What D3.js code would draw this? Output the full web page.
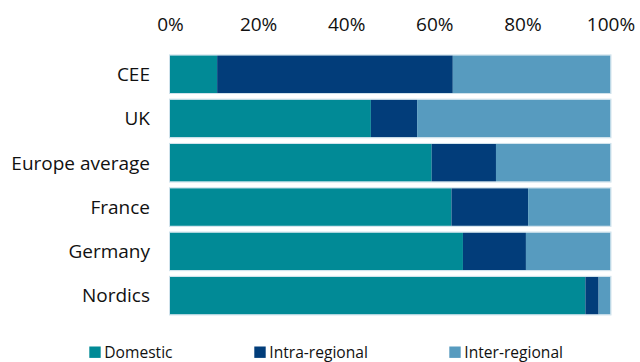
<!DOCTYPE html>
<html>
<head>
<meta charset="utf-8">
<script src="https://cdn.jsdelivr.net/npm/d3@7"></script>
<style>
  html, body { margin: 0; padding: 0; background: #fff; }
  svg { display: block; }
  text { font-family: "Open Sans", "Noto Sans", sans-serif; fill: #111; }
</style>
</head>
<body>
<svg id="chart" width="640" height="362"></svg>
<script>
// Share of flows by origin, per region (percent)
const categories = ["CEE", "UK", "Europe average", "France", "Germany", "Nordics"];
const seriesNames = ["Domestic", "Intra-regional", "Inter-regional"];
const domestic      = [10.7, 45.6, 59.4, 63.9, 66.5, 94.3];
const intraRegional = [53.5, 10.5, 14.6, 17.4, 14.3,  3.0];
const interRegional = [35.8, 43.9, 26.0, 18.7, 19.2,  2.7];
const tickValues = [0, 20, 40, 60, 80, 100];

const colors = ["#018a96", "#023d7a", "#579bbf"];

const rows = categories.map((c, i) => ({
  category: c,
  "Domestic": domestic[i],
  "Intra-regional": intraRegional[i],
  "Inter-regional": interRegional[i]
}));

const svg = d3.select("#chart");

const x = d3.scaleLinear().domain([0, 100]).range([170, 610.5]);
const y = d3.scaleBand().domain(categories).range([48.7, 321.1]).padding(0.15);
const color = d3.scaleOrdinal().domain(seriesNames).range(colors);

const stack = d3.stack().keys(seriesNames);
const layers = stack(rows);

// stacked segments
svg.append("g")
  .selectAll("g")
  .data(layers)
  .join("g")
    .attr("fill", d => color(d.key))
  .selectAll("rect")
  .data(d => d)
  .join("rect")
    .attr("x", d => x(d[0]))
    .attr("y", d => y(d.data.category))
    .attr("width", d => x(d[1]) - x(d[0]))
    .attr("height", y.bandwidth());

// thin light outline around each bar
svg.append("g")
  .selectAll("rect")
  .data(rows)
  .join("rect")
    .attr("x", x(0) - 0.5)
    .attr("y", d => y(d.category) - 0.5)
    .attr("width", x(100) - x(0) + 1)
    .attr("height", y.bandwidth() + 1)
    .attr("fill", "none")
    .attr("stroke", "#cfe2ec")
    .attr("stroke-width", 1);

// top percentage axis
const xAxis = svg.append("g")
  .attr("transform", "translate(0,34)")
  .call(d3.axisTop(x).tickValues(tickValues).tickSize(0).tickPadding(3)
    .tickFormat(d => d + "%"));
xAxis.select(".domain").remove();
xAxis.selectAll("text")
  .attr("fill", "#111")
  .style("font-size", "19px")
  .style("font-family", "'Open Sans', sans-serif");

// category axis
const yAxis = svg.append("g")
  .attr("transform", `translate(${x(0)},0)`)
  .call(d3.axisLeft(y).tickSize(0).tickPadding(20));
yAxis.select(".domain").remove();
yAxis.selectAll("text")
  .attr("fill", "#111")
  .attr("dy", "0.36em")
  .style("font-size", "19px")
  .style("font-family", "'Open Sans', sans-serif");

// legend along the bottom edge
const legendX = [89.3, 254.3, 449.3];
const legend = svg.append("g")
  .selectAll("g")
  .data(seriesNames)
  .join("g")
    .attr("transform", (d, i) => `translate(${legendX[i]},346.5)`);
legend.append("rect")
  .attr("width", 11.4)
  .attr("height", 11.4)
  .attr("fill", d => color(d));
legend.append("text")
  .attr("x", 15)
  .attr("y", 11.4)
  .style("font-size", "15.6px")
  .text(d => d);
</script>
</body>
</html>
